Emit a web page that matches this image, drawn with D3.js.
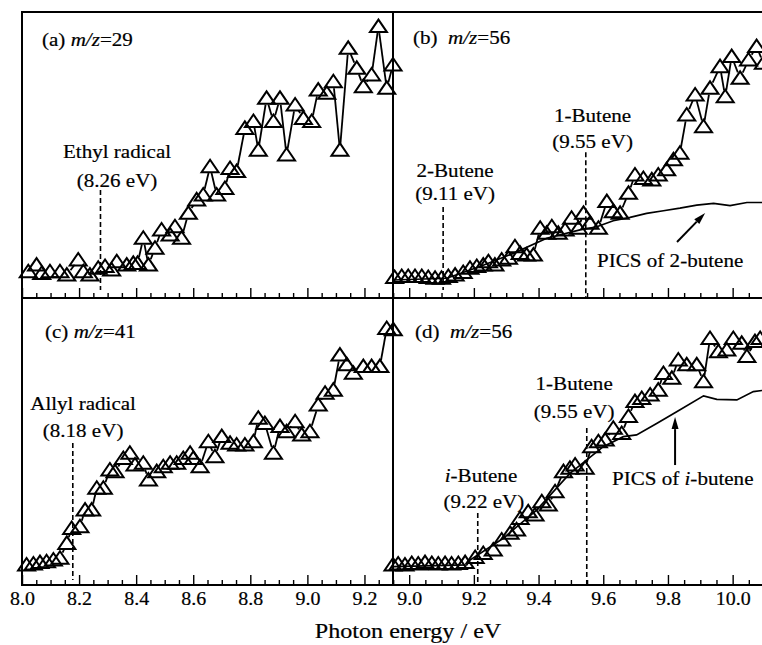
<!DOCTYPE html>
<html>
<head>
<meta charset="utf-8">
<script src="https://cdn.jsdelivr.net/npm/d3@7"></script>
<style>
  body { margin: 0; background: #fff; }
  svg { display: block; }
</style>
</head>
<body>
<div id="chart"></div>
<script>
// (a) m/z=29
var energyA = [8.022,8.051,8.069,8.098,8.133,8.157,8.197,8.215,8.238,8.267,8.291,8.314,8.332,8.367,8.390,8.405,8.425,8.443,8.466,8.489,8.519,8.536,8.559,8.583,8.612,8.635,8.659,8.682,8.711,8.729,8.752,8.781,8.811,8.828,8.857,8.881,8.904,8.927,8.957,8.986,9.015,9.038,9.068,9.091,9.114,9.143,9.173,9.196,9.225,9.249,9.278,9.300];
var signalA = [9.2,11.5,8.6,9.2,9.2,8.0,13.3,9.2,8.0,10.4,11.0,9.8,12.7,11.5,12.1,12.1,20.9,11.5,17.4,23.8,22.0,24.9,20.9,29.6,34.3,36.0,45.9,36.0,38.3,45.3,44.2,59.3,61.7,51.7,69.8,61.7,69.8,50.0,67.5,62.8,61.7,72.7,71.6,75.6,51.7,87.3,80.3,73.9,78.0,94.9,73.3,81.5];
// (b) m/z=56
var energyB = [8.955,8.977,8.997,9.018,9.039,9.059,9.080,9.100,9.121,9.142,9.167,9.188,9.209,9.229,9.245,9.265,9.286,9.307,9.327,9.343,9.363,9.384,9.405,9.425,9.441,9.461,9.482,9.502,9.523,9.539,9.559,9.585,9.611,9.631,9.652,9.678,9.698,9.724,9.750,9.770,9.796,9.817,9.837,9.858,9.884,9.910,9.930,9.961,9.977,9.997,10.023,10.049,10.074,10.095];
var signalB = [7.2,7.5,7.5,7.5,7.5,7.2,6.9,6.9,7.5,8.0,8.9,10.4,11.0,11.5,12.7,11.5,13.3,13.9,17.9,15.6,15.0,15.0,24.4,22.6,24.9,22.6,23.8,27.9,24.4,29.6,26.1,24.4,33.7,30.2,29.6,36.6,43.0,41.8,41.3,43.0,44.8,48.3,50.6,64.0,71.0,59.9,73.3,80.9,70.4,84.4,76.8,83.2,87.9,82.1];
var picsEnergyB = [8.95,9.116,9.219,9.322,9.425,9.528,9.580,9.631,9.683,9.734,9.786,9.837,9.889,9.941,9.992,10.044,10.1];
var picsSignalB = [6.3,6.9,11.0,15.6,20.9,23.8,24.9,27.0,28.2,29.6,30.5,31.4,32.5,33.1,32.3,33.4,33.4];
// (c) m/z=41
var energyC = [8.016,8.040,8.063,8.086,8.110,8.133,8.157,8.174,8.203,8.221,8.244,8.262,8.285,8.308,8.326,8.355,8.378,8.396,8.425,8.443,8.472,8.495,8.519,8.542,8.565,8.589,8.600,8.624,8.653,8.676,8.700,8.729,8.752,8.781,8.811,8.828,8.851,8.881,8.904,8.927,8.957,8.980,9.009,9.038,9.062,9.091,9.114,9.138,9.161,9.196,9.225,9.254,9.278,9.301];
var signalC = [7.0,7.3,7.8,8.1,8.7,9.3,14.5,19.7,20.3,26.1,26.1,33.7,33.7,40.1,39.5,44.1,45.9,41.8,42.4,36.6,39.5,41.2,42.4,42.4,44.1,45.9,44.1,41.2,49.9,44.7,51.7,49.4,48.8,48.8,49.9,58.1,56.3,45.9,55.2,53.4,56.9,52.3,53.4,62.7,66.8,67.9,80.1,76.7,73.8,76.1,76.1,76.1,89.4,88.9];
// (d) m/z=56
var energyD = [8.95,8.966,8.987,9.008,9.028,9.049,9.070,9.090,9.111,9.131,9.152,9.173,9.204,9.229,9.260,9.286,9.312,9.332,9.343,9.368,9.389,9.410,9.430,9.451,9.477,9.497,9.513,9.544,9.564,9.585,9.606,9.631,9.657,9.678,9.698,9.719,9.745,9.770,9.786,9.812,9.832,9.858,9.889,9.910,9.930,9.956,9.982,10.002,10.028,10.044,10.069,10.085];
var signalD = [7.0,7.3,7.0,7.5,7.3,7.8,7.5,7.3,7.5,7.3,7.5,7.8,9.6,11.0,12.2,15.7,18.0,19.2,23.2,25.5,24.4,29.0,27.9,32.5,39.5,40.7,41.8,40.7,48.2,49.9,50.5,54.6,52.8,58.7,63.9,65.0,66.2,67.9,73.7,72.0,78.4,76.7,76.7,70.8,85.9,81.3,81.9,85.9,84.2,79.6,84.8,85.9];
var picsEnergyD = [8.95,9.178,9.188,9.291,9.394,9.497,9.549,9.600,9.662,9.703,9.765,9.827,9.910,9.951,10.013,10.064,10.1];
var picsSignalD = [6.4,7.0,8.7,16.3,26.1,38.9,43.6,48.2,51.7,52.3,56.3,60.4,65.9,64.7,64.5,67.4,67.9];

var ticksLeft = [8.0,8.2,8.4,8.6,8.8,9.0,9.2];
var ticksRight = [9.0,9.2,9.4,9.6,9.8,10.0];

var width = 762, height = 645;
var SX = 1.08; // text in the figure is slightly wide
var left = 22, mid = 393, right = 765, topY = 12, midY = 298, bottom = 585;

var svg = d3.select("#chart")
    .append("svg")
    .attr("width", width)
    .attr("height", height)
    .attr("font-family", "'Liberation Serif','Times New Roman',serif");

var xLeft = d3.scaleLinear().domain([8.0, 9.3]).range([left, mid]);
var xRight = d3.scaleLinear().domain([8.95, 10.1]).range([mid, right]);
var yUpper = d3.scaleLinear().domain([0, 100]).range([midY, topY]);
var yLower = d3.scaleLinear().domain([0, 100]).range([bottom, midY]);

var panels = [
    {x: xLeft, y: yUpper, e: energyA, s: signalA, ox: left, oy: topY,
     title: [["(a) "], ["m/z", 1], ["=29"]], tx: 20, ty: 34,
     dashes: [{e: 8.275, v0: 37.8, v1: 2.8}],
     notes: [{e: 8.333, v: 49.0, t: [["Ethyl radical"]]}, {e: 8.333, v: 38.8, t: [["(8.26 eV)"]]}]},
    {x: xRight, y: yUpper, e: energyB, s: signalB, pe: picsEnergyB, ps: picsSignalB, ox: mid, oy: topY,
     title: [["(b)  "], ["m/z", 1], ["=56"]], tx: 20, ty: 32,
     dashes: [{e: 9.105, v0: 31.8, v1: 2.8}, {e: 9.546, v0: 51.0, v1: 0}],
     notes: [{e: 9.142, v: 42.3, t: [["2-Butene"]]}, {e: 9.142, v: 34.3, t: [["(9.11 eV)"]]},
             {e: 9.567, v: 61.5, t: [["1-Butene"]]}, {e: 9.567, v: 52.4, t: [["(9.55 eV)"]]},
             {e: 9.581, v: 10.8, t: [["PICS of 2-butene"]], a: "start"}],
     arrow: {e0: 9.828, v0: 19.6, e1: 9.915, v1: 29.7}},
    {x: xLeft, y: yLower, e: energyC, s: signalC, ox: left, oy: midY,
     title: [["(c) "], ["m/z", 1], ["=41"]], tx: 23, ty: 40,
     dashes: [{e: 8.178, v0: 49.5, v1: 1.7}],
     notes: [{e: 8.214, v: 61.0, t: [["Allyl radical"]]}, {e: 8.214, v: 51.6, t: [["(8.18 eV)"]]}]},
    {x: xRight, y: yLower, e: energyD, s: signalD, pe: picsEnergyD, ps: picsSignalD, ox: mid, oy: midY,
     title: [["(d)  "], ["m/z", 1], ["=56"]], tx: 22, ty: 40,
     dashes: [{e: 9.212, v0: 25.1, v1: 0}, {e: 9.549, v0: 54.7, v1: 0}],
     notes: [{e: 9.510, v: 67.9, t: [["1-Butene"]]}, {e: 9.510, v: 58.2, t: [["(9.55 eV)"]]},
             {e: 9.222, v: 35.9, t: [["i", 1], ["-Butene"]]}, {e: 9.231, v: 26.8, t: [["(9.22 eV)"]]},
             {e: 9.627, v: 34.8, t: [["PICS of "], ["i", 1], ["-butene"]], a: "start"}],
     arrow: {e0: 9.822, v0: 41.8, e1: 9.822, v1: 58.5}}
];

function addText(g, x, y, parts, anchor, size, sx) {
    var t = g.append("text")
        .attr("transform", "translate(" + x + "," + y + ") scale(" + (sx || SX) + ",1)")
        .attr("text-anchor", anchor || "middle")
        .attr("font-size", size || 19.5)
        .attr("fill", "#000")
        .attr("stroke", "#000")
        .attr("stroke-width", 0.2)
        .style("white-space", "pre");
    parts.forEach(function (p) {
        t.append("tspan").attr("font-style", p[1] ? "italic" : null).text(p[0]);
    });
}

var tri = "M-8.5,5.5L8.5,5.5L0,-7Z";

function drawSeries(g, p) {
    var pts = p.e.map(function (e, i) { return [p.x(e), p.y(p.s[i])]; });
    var segs = [];
    for (var i = 1; i < pts.length; i++) {
        var a = pts[i - 1], b = pts[i];
        var dx = b[0] - a[0], dy = b[1] - a[1];
        var len = Math.sqrt(dx * dx + dy * dy);
        if (len === 0) continue;
        var ux = dx / len, uy = dy / len;
        var gap = 1 / Math.sqrt((ux / 5.5) * (ux / 5.5) + (uy / 6.5) * (uy / 6.5));
        if (len > 2 * gap + 1) {
            segs.push([a[0] + ux * gap, a[1] + uy * gap, b[0] - ux * gap, b[1] - uy * gap]);
        }
    }
    g.append("g").selectAll("line")
        .data(segs)
        .enter()
        .append("line")
        .attr("x1", d => d[0]).attr("y1", d => d[1])
        .attr("x2", d => d[2]).attr("y2", d => d[3])
        .attr("stroke", "#000")
        .attr("stroke-width", 1.8);
    g.append("g").selectAll("path")
        .data(pts)
        .enter()
        .append("path")
        .attr("d", tri)
        .attr("transform", d => "translate(" + d[0] + "," + d[1] + ")")
        .attr("fill", "none")
        .attr("stroke", "#000")
        .attr("stroke-width", 2);
}

panels.forEach(function (p) {
    var g = svg.append("g");
    if (p.pe) {
        var line = d3.line().x((d, i) => p.x(d)).y((d, i) => p.y(p.ps[i]));
        g.append("path")
            .attr("d", line(p.pe))
            .attr("fill", "none")
            .attr("stroke", "#000")
            .attr("stroke-width", 1.7);
    }
    p.dashes.forEach(function (d) {
        g.append("line")
            .attr("x1", p.x(d.e)).attr("x2", p.x(d.e))
            .attr("y1", p.y(d.v0)).attr("y2", p.y(d.v1))
            .attr("stroke", "#000")
            .attr("stroke-width", 1.6)
            .attr("stroke-dasharray", "5,3");
    });
    drawSeries(g, p);
    p.notes.forEach(function (n) {
        addText(g, p.x(n.e), p.y(n.v), n.t, n.a);
    });
    addText(g, p.ox + p.tx, p.oy + p.ty, p.title, "start");
    if (p.arrow) {
        var x0 = p.x(p.arrow.e0), y0 = p.y(p.arrow.v0), x1 = p.x(p.arrow.e1), y1 = p.y(p.arrow.v1);
        var ang = Math.atan2(y1 - y0, x1 - x0);
        var hl = 12, hw = 3.5;
        var bx = x1 - Math.cos(ang) * hl, by = y1 - Math.sin(ang) * hl;
        g.append("line")
            .attr("x1", x0).attr("y1", y0).attr("x2", bx).attr("y2", by)
            .attr("stroke", "#000").attr("stroke-width", 2);
        var px = -Math.sin(ang) * hw, py = Math.cos(ang) * hw;
        g.append("path")
            .attr("d", "M" + x1 + "," + y1 + "L" + (bx + px) + "," + (by + py) + "L" + (bx - px) + "," + (by - py) + "Z")
            .attr("fill", "#000");
    }
});

// axes: ticks point inward from the bottom of each row
function minorTicks(x0, x1) {
    var out = [];
    for (var v = x0; v <= x1 + 1e-9; v += 0.05) out.push(Math.round(v * 100) / 100);
    return out;
}
function drawAxis(x, y0, major, withLabels) {
    var minor = minorTicks(x.domain()[0], x.domain()[1]).filter(v => major.indexOf(v) < 0);
    var g1 = svg.append("g").attr("transform", "translate(0," + y0 + ")")
        .call(d3.axisBottom(x).tickValues(minor).tickSize(-5).tickFormat(""));
    var g2 = svg.append("g").attr("transform", "translate(0," + y0 + ")")
        .call(d3.axisBottom(x).tickValues(major).tickSize(-10).tickFormat(withLabels ? d3.format(".1f") : ""));
    [g1, g2].forEach(function (g) {
        g.select(".domain").remove();
        g.selectAll(".tick line").attr("stroke-width", 1.4);
        g.attr("font-family", null).attr("font-size", 18.5);
        if (!withLabels) g.selectAll(".tick text").remove();
    });
    g1.selectAll(".tick text").remove();
    g2.selectAll(".tick text")
        .attr("y", null).attr("dy", null)
        .attr("fill", "#000")
        .attr("stroke", "#000")
        .attr("stroke-width", 0.2)
        .attr("transform", "translate(0,20) scale(1.08,1)");
}
drawAxis(xLeft, midY, ticksLeft, false);
drawAxis(xRight, midY, ticksRight, false);
drawAxis(xLeft, bottom, ticksLeft, true);
drawAxis(xRight, bottom, ticksRight, true);

// frame
var frame = [[left, topY, right, topY], [left, midY, right, midY], [left, bottom, right, bottom],
             [left, topY, left, bottom], [mid, topY, mid, bottom]];
svg.append("g").selectAll("line")
    .data(frame)
    .enter()
    .append("line")
    .attr("x1", d => d[0]).attr("y1", d => d[1])
    .attr("x2", d => d[2]).attr("y2", d => d[3])
    .attr("stroke", "#000")
    .attr("stroke-width", 2)
    .attr("stroke-linecap", "square");

addText(svg, 408, 638, [["Photon energy / eV"]], "middle", 21, 1.15);
</script>
</body>
</html>
